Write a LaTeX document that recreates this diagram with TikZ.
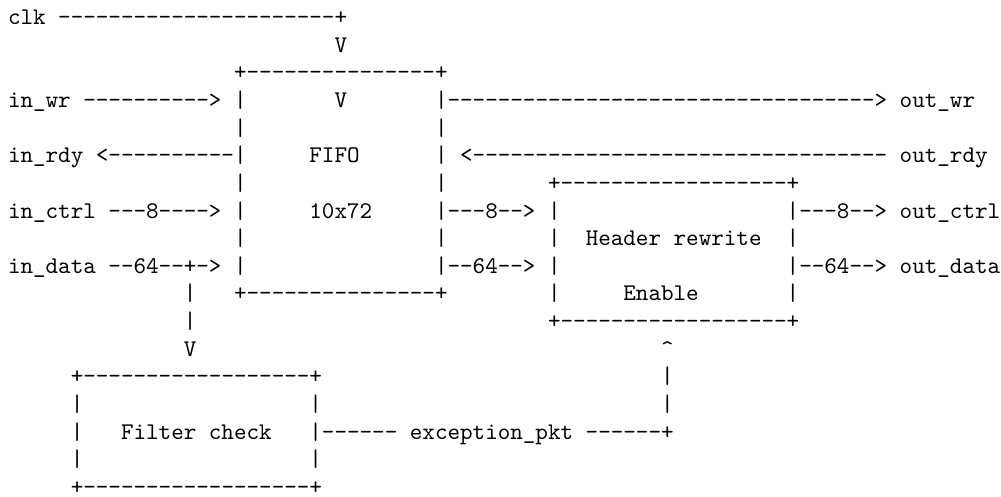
\documentclass[tikz,border=0pt]{standalone}
\usepackage{tikz}

% one column = one monospaced character, one row = one text line
\newlength\tcw
\setlength\tcw{5.25pt}
\newcommand\sk[1]{\hspace*{#1\tcw}}
\ExplSyntaxOn
\cs_new:Npn \dsh #1 { \prg_replicate:nn {#1} { -\kern0pt } }
\ExplSyntaxOff

\tikzset{
  row/.style={anchor=base west, inner sep=0pt, outer sep=0pt,
    font=\fontsize{10}{12}\selectfont\ttfamily}
}

\begin{document}
\begin{tikzpicture}[x=5.25pt, y=-11.557pt]
  \fill[white] (-0.637,0.1139) rectangle (79.06,18.089);
  \useasboundingbox (-0.637,0.1139) rectangle (79.06,18.089);

  \node[row] (r1)  at (0,1)  {clk\sk{1}\dsh{22}+};
  \node[row] (r2)  at (0,2)  {\sk{26}V};
  \node[row] (r3)  at (0,3)  {\sk{18}+\dsh{15}+};
  \node[row] (r4)  at (0,4)  {in\_wr\sk{1}\dsh{10}>\sk{1}|\sk{7}V\sk{7}|\dsh{34}>\sk{1}out\_wr};
  \node[row] (r5)  at (0,5)  {\sk{18}|\sk{15}|};
  \node[row] (r6)  at (0,6)  {in\_rdy\sk{1}<\dsh{10}|\sk{5}FIFO\sk{6}|\sk{1}<\dsh{33}\sk{1}out\_rdy};
  \node[row] (r7)  at (0,7)  {\sk{18}|\sk{15}|\sk{8}+\dsh{18}+};
  \node[row] (r8)  at (0,8)  {in\_ctrl\sk{1}\dsh{3}8\dsh{4}>\sk{1}|\sk{5}10x72\sk{5}|\dsh{3}8\dsh{2}>\sk{1}|\sk{18}|\dsh{3}8\dsh{2}>\sk{1}out\_ctrl};
  \node[row] (r9)  at (0,9)  {\sk{18}|\sk{15}|\sk{8}|\sk{2}Header\sk{1}rewrite\sk{2}|};
  \node[row] (r10) at (0,10) {in\_data\sk{1}\dsh{2}64\dsh{2}+\dsh{1}>\sk{1}|\sk{15}|\dsh{2}64\dsh{2}>\sk{1}|\sk{18}|\dsh{2}64\dsh{2}>\sk{1}out\_data};
  \node[row] (r11) at (0,11) {\sk{14}|\sk{3}+\dsh{15}+\sk{8}|\sk{5}Enable\sk{7}|};
  \node[row] (r12) at (0,12) {\sk{14}|\sk{28}+\dsh{18}+};
  \node[row] (r13) at (0,13) {\sk{14}V\sk{37}\textasciicircum};
  \node[row] (r14) at (0,14) {\sk{5}+\dsh{18}+\sk{27}|};
  \node[row] (r15) at (0,15) {\sk{5}|\sk{18}|\sk{27}|};
  \node[row] (r16) at (0,16) {\sk{5}|\sk{3}Filter\sk{1}check\sk{3}|\dsh{6}\sk{1}exception\_pkt\sk{1}\dsh{6}+};
  \node[row] (r17) at (0,17) {\sk{5}|\sk{18}|};
  \node[row] (r18) at (0,18) {\sk{5}+\dsh{18}+};
\end{tikzpicture}
\end{document}
